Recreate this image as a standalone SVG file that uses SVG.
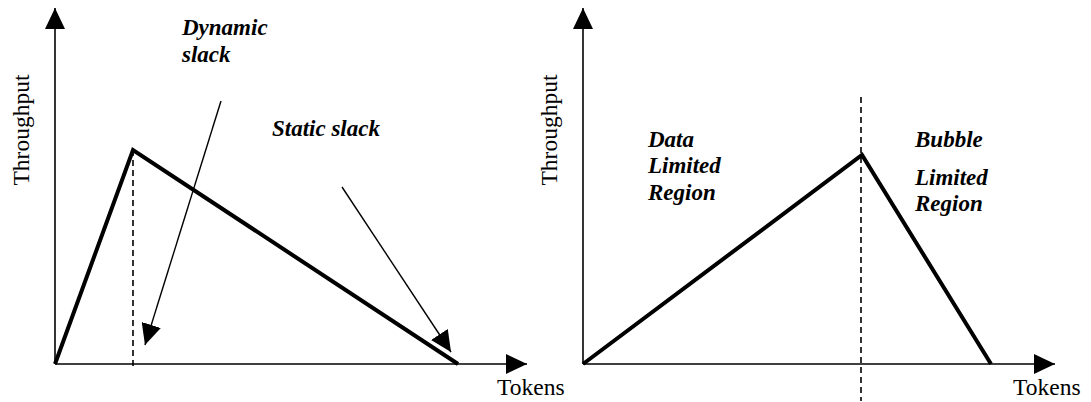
<svg xmlns="http://www.w3.org/2000/svg" width="1091" height="402" viewBox="0 0 1091 402">
  <style>
    .axis { stroke: #000; stroke-width: 1.6; fill: none; }
    .curve { stroke: #000; stroke-width: 4; fill: none; stroke-linejoin: miter; }
    .guide { stroke: #000; stroke-width: 1.6; fill: none; stroke-dasharray: 6 4; }
    .pointer { stroke: #000; stroke-width: 1.4; fill: none; }
    .label { font-family: "Liberation Serif", "Times New Roman", serif; font-size: 23.5px; fill: #000; }
    .note { font-family: "Liberation Serif", "Times New Roman", serif; font-size: 23px; font-weight: bold; font-style: italic; fill: #000; }
  </style>
  <defs>
    <marker id="head" markerUnits="userSpaceOnUse" markerWidth="21" markerHeight="20" refX="21" refY="10" orient="auto">
      <path d="M0,0 L21,10 L0,20 Z" fill="#000"/>
    </marker>
  </defs>
  <rect width="1091" height="402" fill="#fff"/>

  <!-- left plot: slack vs tokens -->
  <g id="left-axes">
    <line class="axis" x1="55" y1="364" x2="55" y2="8" marker-end="url(#head)"/>
    <line class="axis" x1="55" y1="364" x2="527" y2="364" marker-end="url(#head)"/>
    <text class="label" transform="translate(29,130) rotate(-90)" text-anchor="middle">Throughput</text>
    <text class="label" x="497" y="395">Tokens</text>
  </g>
  <g id="left-curve">
    <line class="guide" x1="133" y1="150" x2="133" y2="369"/>
    <polyline class="curve" points="55,364 133,150 458,364"/>
  </g>
  <g id="dynamic-slack">
    <text class="note" x="182" y="35">Dynamic</text>
    <text class="note" x="182" y="62">slack</text>
  </g>
  <g id="static-slack">
    <text class="note" x="272" y="136">Static slack</text>
  </g>
  <g id="connectors">
    <line class="pointer" x1="221" y1="101" x2="145" y2="345" marker-end="url(#head)"/>
    <line class="pointer" x1="342" y1="187" x2="451" y2="352" marker-end="url(#head)"/>
  </g>

  <!-- right plot: limiting regions -->
  <g id="right-axes">
    <line class="axis" x1="583" y1="364" x2="583" y2="8" marker-end="url(#head)"/>
    <line class="axis" x1="583" y1="364" x2="1055" y2="364" marker-end="url(#head)"/>
    <text class="label" transform="translate(557,130) rotate(-90)" text-anchor="middle">Throughput</text>
    <text class="label" x="1013" y="395">Tokens</text>
  </g>
  <g id="right-curve">
    <line class="guide" x1="861" y1="97" x2="861" y2="401"/>
    <polyline class="curve" points="583,364 862,155 991,364"/>
  </g>
  <g id="data-limited">
    <text class="note" x="648" y="147">Data</text>
    <text class="note" x="648" y="173">Limited</text>
    <text class="note" x="648" y="200">Region</text>
  </g>
  <g id="bubble-limited">
    <text class="note" x="915" y="147">Bubble</text>
    <text class="note" x="915" y="185">Limited</text>
    <text class="note" x="915" y="211">Region</text>
  </g>
</svg>
